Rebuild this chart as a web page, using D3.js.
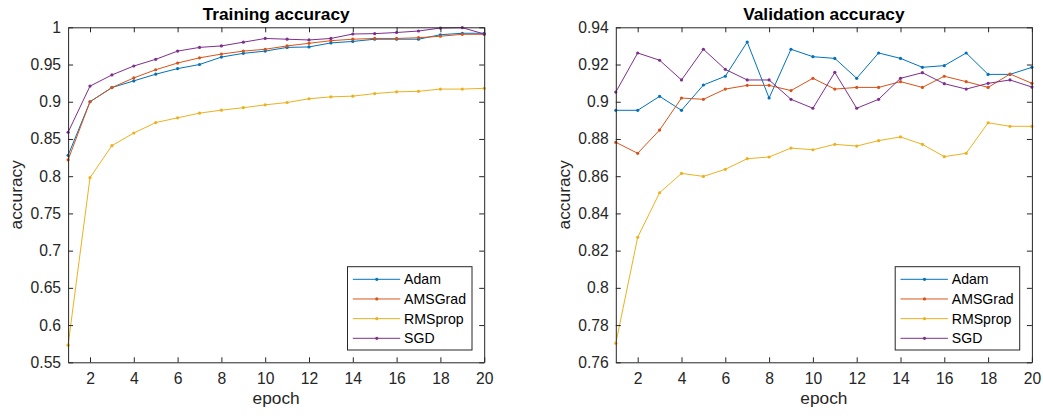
<!DOCTYPE html>
<html>
<head>
<meta charset="utf-8">
<script src="https://cdn.jsdelivr.net/npm/d3@7"></script>
<style>
  body { margin: 0; background: #fff; }
  svg { display: block; font-family: "Liberation Sans", Arial, sans-serif; }
</style>
</head>
<body>
<svg id="chart" width="1043" height="416"></svg>
<script>
// data
const epochs = d3.range(1, 21);
const seriesNames = ["Adam", "AMSGrad", "RMSprop", "SGD"];
const seriesColors = ["#0072BD", "#D95319", "#EDB120", "#7E2F8E"];

const trainAdam    = [0.828, 0.900, 0.919, 0.928, 0.937, 0.9445, 0.950, 0.960, 0.965, 0.968, 0.973, 0.9736, 0.979, 0.981, 0.984, 0.984, 0.984, 0.990, 0.992, 0.992];
const trainAMSGrad = [0.822, 0.900, 0.919, 0.932, 0.943, 0.952, 0.959, 0.964, 0.968, 0.9705, 0.975, 0.9785, 0.982, 0.984, 0.985, 0.985, 0.986, 0.988, 0.9906, 0.9906];
const trainRMSprop = [0.573, 0.798, 0.841, 0.858, 0.872, 0.8784, 0.8847, 0.8887, 0.892, 0.8958, 0.899, 0.904, 0.9066, 0.9075, 0.911, 0.9133, 0.914, 0.917, 0.917, 0.918];
const trainSGD     = [0.859, 0.921, 0.936, 0.948, 0.957, 0.968, 0.973, 0.975, 0.980, 0.985, 0.984, 0.983, 0.985, 0.991, 0.9915, 0.993, 0.995, 0.999, 0.9995, 0.991];

const valAdam    = [0.8954, 0.8954, 0.9029, 0.8954, 0.909, 0.9137, 0.9321, 0.902, 0.9282, 0.9242, 0.9233, 0.9126, 0.9262, 0.9233, 0.9185, 0.9194, 0.9262, 0.9147, 0.9147, 0.9185];
const valAMSGrad = [0.8782, 0.8723, 0.8848, 0.902, 0.9013, 0.9068, 0.9088, 0.9088, 0.906, 0.9126, 0.9068, 0.9077, 0.9077, 0.9108, 0.9077, 0.9137, 0.9108, 0.9077, 0.9149, 0.9099];
const valRMSprop = [0.7702, 0.8272, 0.8511, 0.8615, 0.8599, 0.8637, 0.8694, 0.8703, 0.8751, 0.8742, 0.8771, 0.8762, 0.8791, 0.8811, 0.8771, 0.8705, 0.8723, 0.8887, 0.8868, 0.8868];
const valSGD     = [0.9052, 0.9262, 0.9223, 0.9117, 0.9282, 0.9174, 0.9117, 0.9117, 0.9013, 0.8965, 0.9158, 0.8965, 0.9013, 0.9126, 0.9156, 0.9097, 0.9068, 0.9099, 0.9117, 0.9079];

const xTicks = [2, 4, 6, 8, 10, 12, 14, 16, 18, 20];
const trainYTicks = [0.55, 0.6, 0.65, 0.7, 0.75, 0.8, 0.85, 0.9, 0.95, 1];
const valYTicks = [0.76, 0.78, 0.8, 0.82, 0.84, 0.86, 0.88, 0.9, 0.92, 0.94];

const panels = [
  { title: "Training accuracy", left: 68.1, right: 484.2, yDomain: [0.55, 1], yTicks: trainYTicks,
    series: [trainAdam, trainAMSGrad, trainRMSprop, trainSGD], ylabX: 22 },
  { title: "Validation accuracy", left: 615.8, right: 1031.9, yDomain: [0.76, 0.94], yTicks: valYTicks,
    series: [valAdam, valAMSGrad, valRMSprop, valSGD], ylabX: 570 }
];

const plotTop = 27.3, plotBottom = 362.3;
const axisColor = "#262626";
const svg = d3.select("#chart");

panels.forEach(p => {
  const x = d3.scaleLinear().domain([1, 20]).range([p.left, p.right]);
  const y = d3.scaleLinear().domain(p.yDomain).range([plotBottom, plotTop]);
  const g = svg.append("g");

  // lines + dot markers
  p.series.forEach((vals, i) => {
    const pts = epochs.map((e, j) => [e, vals[j]]);
    g.append("path")
      .datum(pts)
      .attr("fill", "none")
      .attr("stroke", seriesColors[i])
      .attr("stroke-width", 1)
      .attr("d", d3.line().x(d => x(d[0])).y(d => y(d[1])));
    g.selectAll(null)
      .data(pts)
      .join("circle")
      .attr("cx", d => x(d[0]))
      .attr("cy", d => y(d[1]))
      .attr("r", 1.6)
      .attr("fill", seriesColors[i]);
  });

  // axes (MATLAB style: ticks inward, box on)
  const styleAxis = sel => {
    sel.attr("color", axisColor);
    sel.selectAll("text").attr("font-size", "15.7px").attr("fill", axisColor)
      .attr("font-family", "Liberation Sans, Arial, sans-serif");
    sel.select(".domain").attr("stroke-width", 1);
  };
  g.append("g").attr("transform", `translate(0,${plotBottom})`)
    .call(d3.axisBottom(x).tickValues(xTicks).tickSizeInner(-5).tickSizeOuter(0).tickPadding(11))
    .call(styleAxis);
  g.append("g").attr("transform", `translate(0,${plotTop})`)
    .call(d3.axisTop(x).tickValues(xTicks).tickSizeInner(-5).tickSizeOuter(0).tickFormat(""))
    .call(styleAxis);
  g.append("g").attr("transform", `translate(${p.left},0)`)
    .call(d3.axisLeft(y).tickValues(p.yTicks).tickSizeInner(-5).tickSizeOuter(0).tickPadding(7).tickFormat(d3.format("~g")))
    .call(styleAxis);
  g.append("g").attr("transform", `translate(${p.right},0)`)
    .call(d3.axisRight(y).tickValues(p.yTicks).tickSizeInner(-5).tickSizeOuter(0).tickFormat(""))
    .call(styleAxis);
  g.selectAll(".tick line").attr("stroke-width", 1);

  // title and axis labels
  const cx = (p.left + p.right) / 2;
  g.append("text").attr("x", cx).attr("y", 20).attr("text-anchor", "middle")
    .attr("font-size", "17.3px").attr("font-weight", "bold").attr("fill", "#000").text(p.title);
  g.append("text").attr("x", cx).attr("y", 404).attr("text-anchor", "middle")
    .attr("font-size", "17.3px").attr("fill", axisColor).text("epoch");
  g.append("text").attr("transform", `translate(${p.ylabX},${(plotTop + plotBottom) / 2}) rotate(-90)`)
    .attr("text-anchor", "middle").attr("font-size", "17.3px").attr("fill", axisColor).text("accuracy");

  // legend
  const bw = 124.5, bh = 83.3;
  const bx = p.right - 12.2 - bw, by = plotBottom - 12.3 - bh;
  const lg = g.append("g").attr("transform", `translate(${bx},${by})`);
  lg.append("rect").attr("width", bw).attr("height", bh)
    .attr("fill", "#fff").attr("stroke", axisColor).attr("stroke-width", 1);
  seriesNames.forEach((name, i) => {
    const ry = 12.6 + i * 19.67;
    lg.append("line").attr("x1", 5.3).attr("x2", 52.7).attr("y1", ry).attr("y2", ry)
      .attr("stroke", seriesColors[i]).attr("stroke-width", 1);
    lg.append("circle").attr("cx", 29.3).attr("cy", ry).attr("r", 1.6).attr("fill", seriesColors[i]);
    lg.append("text").attr("x", 56.6).attr("y", ry).attr("dy", "0.35em")
      .attr("font-size", "14.1px").attr("fill", "#000").text(name);
  });
});
</script>
</body>
</html>
